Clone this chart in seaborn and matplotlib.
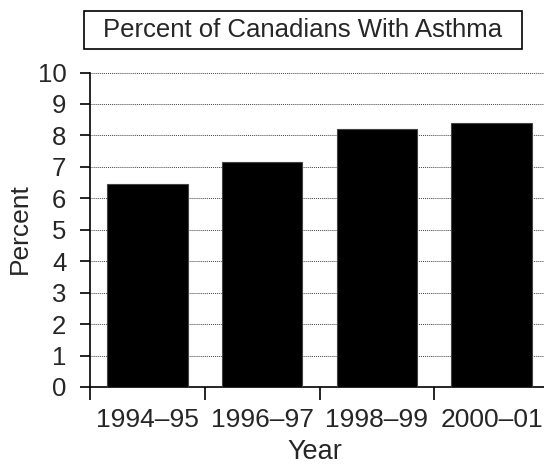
import matplotlib
matplotlib.use("Agg")
import matplotlib.pyplot as plt
import seaborn as sns
import pandas as pd
from matplotlib.patches import Rectangle

years = ["1994\u201395", "1996\u201397", "1998\u201399", "2000\u201301"]
percent = [6.45, 7.15, 8.2, 8.4]
yticks = list(range(0, 11))
title = "Percent of Canadians With Asthma"

sns.set_theme(style="white")
plt.rcParams["font.family"] = ["Liberation Sans", "DejaVu Sans"]

df = pd.DataFrame({"Year": years, "Percent": percent})

fig = plt.figure(figsize=(5.44, 4.66), dpi=100)
W, H = 544, 466
ax = fig.add_axes([90 / W, 1 - 387 / H, (549 - 90) / W, (387 - 72.5) / H])

sns.barplot(data=df, x="Year", y="Percent", color="black", width=0.7,
            edgecolor="#444444", linewidth=0.8, ax=ax, zorder=3, saturation=1)

ax.set_xlim(-0.5, 3.5)
ax.set_ylim(0, 10)
ax.set_yticks(yticks)
ax.set_yticklabels([str(t) for t in yticks], fontsize=18.5)
ax.yaxis.grid(True, linestyle=(0, (1, 1)), color="#444444", linewidth=0.7, zorder=0)
ax.xaxis.grid(False)
ax.set_axisbelow(True)

ax.set_xticks(range(len(years)))
ax.set_xticklabels(years, fontsize=19)
ax.set_xticks([-0.5, 0.5, 1.5, 2.5, 3.5], minor=True)
ax.tick_params(axis="x", which="major", length=0, pad=15)
ax.tick_params(axis="x", which="minor", length=9, width=1.2, color="black", direction="out", bottom=True)
ax.tick_params(axis="y", length=7, width=1.2, color="black", direction="out", left=True, pad=10)

for s in ["top", "right"]:
    ax.spines[s].set_visible(False)
for s in ["left", "bottom"]:
    ax.spines[s].set_color("black")
    ax.spines[s].set_linewidth(1.2)

ax.set_xlabel("")
ax.set_ylabel("")
fig.text(315 / W, 1 - 459 / H, "Year", ha="center", va="baseline", fontsize=19.5)
fig.text(20 / W, 1 - 229 / H, "Percent", ha="center", va="center", rotation=90, fontsize=19)

fig.patches.append(Rectangle((84 / W, 1 - 49 / H), (522 - 84) / W, 38 / H,
                             transform=fig.transFigure, fill=False,
                             edgecolor="black", linewidth=1.2))
fig.text(303 / W, 1 - 30 / H, title, ha="center", va="center", fontsize=18.5)

fig.savefig("out.png", dpi=100)
